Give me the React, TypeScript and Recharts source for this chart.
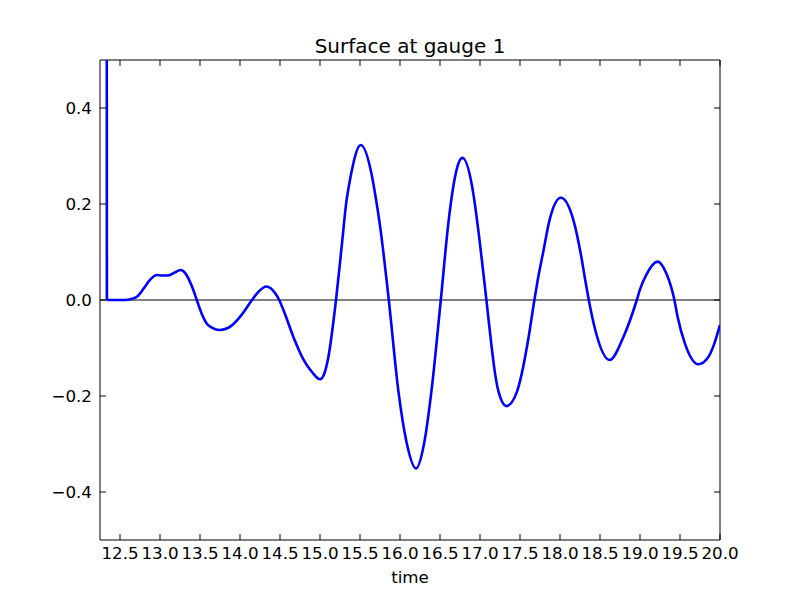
import { LineChart, Line, XAxis, YAxis, ReferenceLine } from 'recharts'

// initial jump at the gauge (goes off the top of the axes)
const spikeTimes = [12.333, 12.336]
const spikeValues = [1.2, 0]

const times = [
  12.336, 12.45, 12.56, 12.64, 12.72, 12.8, 12.88, 12.96, 13.03, 13.1, 13.18, 13.26, 13.32,
  13.4, 13.46, 13.52, 13.6, 13.75, 13.89, 14.02, 14.15, 14.23, 14.33, 14.44, 14.49, 14.55,
  14.67, 14.79, 14.9, 15.0, 15.05, 15.1, 15.2, 15.27, 15.33, 15.38, 15.51, 15.65, 15.7,
  15.75, 15.86, 15.98, 16.08, 16.2, 16.3, 16.4, 16.51, 16.61, 16.67, 16.7, 16.78, 16.92,
  16.96, 17.08, 17.14, 17.19, 17.23, 17.33, 17.46, 17.52, 17.6, 17.68, 17.72, 17.79, 17.87,
  18.01, 18.17, 18.26, 18.31, 18.36, 18.44, 18.62, 18.79, 18.96, 19.0, 19.08, 19.22, 19.33,
  19.43, 19.47, 19.56, 19.73, 19.85, 19.92, 20.0,
]

const surface = [
  0, 0, 0, 0.002, 0.008, 0.025, 0.043, 0.052, 0.051, 0.051, 0.057, 0.0625, 0.055,
  0.028, 0, -0.028, -0.052, -0.0625, -0.054, -0.031, 0, 0.017, 0.028, 0.014, 0, -0.024,
  -0.078, -0.123, -0.15, -0.165, -0.155, -0.123, 0, 0.11, 0.205, 0.255, 0.323, 0.258, 0.21,
  0.155, 0, -0.19, -0.295, -0.351, -0.3, -0.18, 0, 0.168, 0.24, 0.266, 0.296, 0.218,
  0.17, 0, -0.09, -0.155, -0.19, -0.221, -0.192, -0.155, -0.085, 0, 0.04, 0.1, 0.167,
  0.213, 0.165, 0.096, 0.047, 0, -0.062, -0.125, -0.078, 0, 0.022, 0.053, 0.08, 0.055,
  0, -0.035, -0.09, -0.134, -0.12, -0.095, -0.052,
]

const xTicks = [12.5, 13.0, 13.5, 14.0, 14.5, 15.0, 15.5, 16.0, 16.5, 17.0, 17.5, 18.0, 18.5, 19.0, 19.5, 20.0]
const yTicks = [-0.4, -0.2, 0.0, 0.2, 0.4]

const spikeData = spikeTimes.map((t, i) => ({ t, v: spikeValues[i] }))
const waveData = times.map((t, i) => ({ t, v: surface[i] }))

const PLOT_TOP = 60
const PLOT_RIGHT = 720
const TICK_LEN = 6
const FONT = '"DejaVu Sans", sans-serif'

const fmt = (v: number) => v.toFixed(1).replace('-', '\u2212')

const XTick = ({ x, y, payload }: any) => {
  const axisY = y - 6
  return (
    <g>
      <line x1={x} x2={x} y1={axisY} y2={axisY - TICK_LEN} stroke="#000" />
      <line x1={x} x2={x} y1={PLOT_TOP} y2={PLOT_TOP + TICK_LEN} stroke="#000" />
      <text x={x} y={y + 13} textAnchor="middle" fontSize={16.7} fontFamily={FONT} fill="#000">
        {fmt(payload.value)}
      </text>
    </g>
  )
}

const YTick = ({ x, y, payload }: any) => {
  const axisX = x + 8
  return (
    <g>
      <line x1={axisX} x2={axisX + TICK_LEN} y1={y} y2={y} stroke="#000" />
      <line x1={PLOT_RIGHT} x2={PLOT_RIGHT - TICK_LEN} y1={y} y2={y} stroke="#000" />
      <text x={x} y={y + 6} textAnchor="end" fontSize={16.7} fontFamily={FONT} fill="#000">
        {fmt(payload.value)}
      </text>
    </g>
  )
}

export default function App() {
  return (
    <div style={{ position: 'absolute', left: 0, top: 0, width: 800, height: 600, background: '#fff', fontFamily: FONT }}>
      <div
        style={{
          position: 'absolute',
          top: 36,
          left: 100,
          width: 620,
          textAlign: 'center',
          fontSize: 20,
          lineHeight: '20px',
        }}
      >
        Surface at gauge 1
      </div>
      <LineChart width={800} height={600} margin={{ top: 60, right: 80, bottom: 0, left: 0 }}>
        <XAxis
          dataKey="t"
          type="number"
          domain={[12.25, 20]}
          ticks={xTicks}
          allowDataOverflow
          height={60}
          tickSize={0}
          tickMargin={6}
          tickLine={false}
          axisLine={{ stroke: '#000' }}
          tick={<XTick />}
          interval={0}
        />
        <YAxis
          type="number"
          domain={[-0.5, 0.5]}
          ticks={yTicks}
          allowDataOverflow
          width={100}
          tickSize={0}
          tickMargin={8}
          tickLine={false}
          axisLine={{ stroke: '#000' }}
          tick={<YTick />}
          interval={0}
        />
        <ReferenceLine y={0.5} stroke="#000" />
        <ReferenceLine x={20} stroke="#000" />
        <ReferenceLine y={0} stroke="#000" strokeWidth={1.2} />
        <Line
          data={spikeData}
          dataKey="v"
          type="linear"
          stroke="#0000ff"
          strokeWidth={2.6}
          dot={false}
          activeDot={false}
          isAnimationActive={false}
        />
        <Line
          data={waveData}
          dataKey="v"
          type="monotone"
          stroke="#0000ff"
          strokeWidth={2.6}
          dot={false}
          activeDot={false}
          isAnimationActive={false}
        />
      </LineChart>
      <div
        style={{
          position: 'absolute',
          top: 569,
          left: 100,
          width: 620,
          textAlign: 'center',
          fontSize: 16.7,
          lineHeight: '17px',
        }}
      >
        time
      </div>
    </div>
  )
}
